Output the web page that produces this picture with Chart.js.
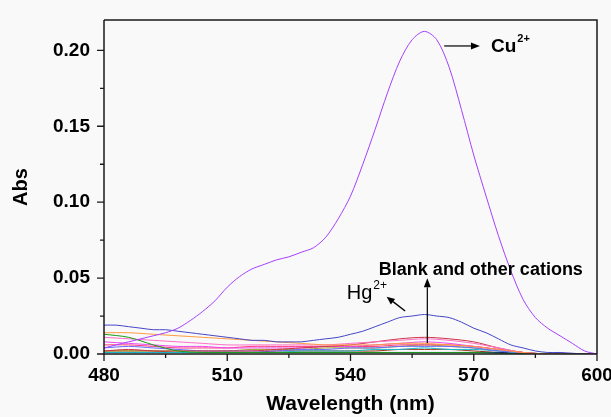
<!DOCTYPE html>
<html><head><meta charset="utf-8">
<script src="https://cdn.jsdelivr.net/npm/chart.js@4.4.0/dist/chart.umd.min.js"></script>
<style>
html,body{margin:0;padding:0;background:#f9f9f9;}
#wrap{width:611px;height:417px;position:relative;}
canvas{display:block;}
</style></head><body>
<div id="wrap"><canvas id="c" width="611" height="417"></canvas></div>
<script>
// ---- data ----
const wavelengths = [480,483,486,489,492,495,498,501,504,507,510,513,516,519,522,525,528,531,534,537,540,543,546,549,552,555,558,561,564,567,570,573,576,579,582,585,588,591,594,597,600];
const cuValues = [0.004,0.006,0.008,0.010,0.012,0.014,0.017,0.022,0.028,0.035,0.044,0.051,0.056,0.059,0.062,0.064,0.067,0.070,0.077,0.089,0.104,0.125,0.148,0.172,0.193,0.207,0.2125,0.207,0.189,0.161,0.131,0.104,0.078,0.055,0.036,0.024,0.017,0.012,0.007,0.002,0.000];
const hgValues = [0.019,0.019,0.018,0.017,0.016,0.016,0.015,0.014,0.013,0.012,0.011,0.010,0.009,0.009,0.008,0.008,0.008,0.009,0.010,0.011,0.013,0.015,0.018,0.021,0.024,0.025,0.026,0.025,0.024,0.021,0.017,0.014,0.010,0.006,0.004,0.002,0.001,0.001,0.0005,0,0];

const wlOther = [480,486,492,498,504,510,516,522,528,534,540,546,552,558,564,570,576,582,588,594,600];
const orangeValues  = [0.014,0.014,0.013,0.012,0.011,0.010,0.009,0.008,0.007,0.006,0.006,0.006,0.007,0.007,0.006,0.005,0.003,0.001,0,0,0];
const greenValues   = [0.013,0.011,0.006,0.002,0.001,0.001,0.001,0.001,0.001,0.001,0.001,0.001,0.001,0.001,0.001,0.001,0.0005,0,0,0,0];
const pinkValues    = [0.011,0.010,0.009,0.008,0.007,0.006,0.006,0.006,0.006,0.006,0.007,0.008,0.009,0.010,0.009,0.007,0.004,0.001,0,0,0];
const redValues     = [0.002,0.003,0.002,0.002,0.002,0.002,0.002,0.003,0.004,0.005,0.006,0.008,0.010,0.011,0.010,0.008,0.004,0.001,0,0,0];
const magentaValues = [0.008,0.007,0.006,0.005,0.005,0.004,0.004,0.004,0.004,0.005,0.005,0.006,0.007,0.008,0.007,0.005,0.003,0.001,0,0,0];
const lightBlueValues = [0.004,0.005,0.004,0.003,0.002,0.002,0.002,0.002,0.003,0.003,0.004,0.004,0.005,0.005,0.005,0.004,0.002,0.001,0,0,0];
const roseValues    = [0.006,0.006,0.005,0.004,0.004,0.004,0.005,0.005,0.005,0.005,0.005,0.005,0.006,0.006,0.006,0.005,0.003,0.001,0,0,0];
const cyanValues    = [0.001,0.001,0.001,0.001,0.001,0.001,0.001,0.001,0.002,0.002,0.002,0.003,0.003,0.004,0.003,0.003,0.002,0.0005,0,0,0];
const oliveValues   = [0.002,0.002,0.002,0.002,0.002,0.002,0.003,0.003,0.003,0.004,0.004,0.004,0.005,0.006,0.005,0.004,0.002,0.001,0,0,0];
const navyValues    = [0.001,0.001,0.001,0.001,0.001,0.001,0.001,0.001,0.001,0.001,0.001,0.001,0.001,0.001,0.001,0.001,0.001,0.0005,0,0,0];
const brownValues   = [0.002,0.002,0.002,0.001,0.001,0.001,0.001,0.002,0.002,0.002,0.002,0.002,0.003,0.003,0.003,0.002,0.001,0.0005,0,0,0];

const xMajorTicks = [480,510,540,570,600];
const xMinorTicks = [495,525,555,585];
const yMajorTicks = [0,0.05,0.10,0.15,0.20];
const yMinorTicks = [0.025,0.075,0.125,0.175];

// ---- build ----
const FONT = '"Liberation Sans", Arial, sans-serif';
const pts = (xs, ys) => xs.map((x,i)=>({x, y: ys[i]}));
const ds = (label, xs, ys, color) => ({label, data: pts(xs, ys), borderColor: color, borderWidth: 1, pointRadius: 0, tension: 0.3, fill: false});

const datasets = [
  ds('Cu2+', wavelengths, cuValues, '#a640ff'),
  ds('Hg2+', wavelengths, hgValues, '#4646c8'),
  ds('Pb', wlOther, orangeValues, '#ff9a3c'),
  ds('Zn', wlOther, greenValues, '#1a9a1a'),
  ds('Ni', wlOther, pinkValues, '#ff6ec7'),
  ds('Co', wlOther, redValues, '#cc3344'),
  ds('Cd', wlOther, magentaValues, '#ee44ee'),
  ds('Fe', wlOther, lightBlueValues, '#6a6aff'),
  ds('Mn', wlOther, roseValues, '#ff3a7a'),
  ds('Ca', wlOther, cyanValues, '#1ab8c8'),
  ds('Mg', wlOther, oliveValues, '#a0a020'),
  ds('Na', wlOther, navyValues, '#101080'),
  ds('Blank', wlOther, brownValues, '#993311'),
];

function arrow(ctx, x1, y1, x2, y2, len, half) {
  const ang = Math.atan2(y2 - y1, x2 - x1);
  const bx = x2 - len * Math.cos(ang), by = y2 - len * Math.sin(ang);
  ctx.beginPath(); ctx.moveTo(x1, y1); ctx.lineTo(bx, by); ctx.stroke();
  ctx.beginPath();
  ctx.moveTo(x2, y2);
  ctx.lineTo(bx + half * Math.sin(ang), by - half * Math.cos(ang));
  ctx.lineTo(bx - half * Math.sin(ang), by + half * Math.cos(ang));
  ctx.closePath(); ctx.fill();
}

const decor = {
  id: 'decor',
  beforeDraw(chart) {
    const c = chart.ctx;
    c.save(); c.fillStyle = '#f9f9f9'; c.fillRect(0, 0, chart.width, chart.height); c.restore();
  },
  afterDraw(chart) {
    const {ctx, chartArea: a, scales: {x, y}} = chart;
    ctx.save();
    ctx.strokeStyle = '#1a1a1a'; ctx.lineWidth = 1.5;
    ctx.beginPath(); ctx.moveTo(a.left, a.top); ctx.lineTo(a.right, a.top); ctx.lineTo(a.right, a.bottom); ctx.stroke();
    ctx.beginPath(); ctx.moveTo(a.left, a.top); ctx.lineTo(a.left, a.bottom); ctx.lineTo(a.right, a.bottom); ctx.stroke();
    ctx.lineWidth = 1.3;
    ctx.beginPath();
    xMajorTicks.forEach(v => { const p = x.getPixelForValue(v); ctx.moveTo(p, a.bottom); ctx.lineTo(p, a.bottom + 7); });
    xMinorTicks.forEach(v => { const p = x.getPixelForValue(v); ctx.moveTo(p, a.bottom); ctx.lineTo(p, a.bottom + 4); });
    yMajorTicks.forEach(v => { const p = y.getPixelForValue(v); ctx.moveTo(a.left, p); ctx.lineTo(a.left - 7, p); });
    yMinorTicks.forEach(v => { const p = y.getPixelForValue(v); ctx.moveTo(a.left, p); ctx.lineTo(a.left - 4, p); });
    ctx.stroke();

    const X = v => x.getPixelForValue(v), Y = v => y.getPixelForValue(v);
    ctx.fillStyle = '#000'; ctx.strokeStyle = '#000'; ctx.lineWidth = 1.2;
    // Cu arrow + label
    arrow(ctx, X(562.8), Y(0.2029), X(571.5), Y(0.2029), 9, 3.5);
    ctx.textBaseline = 'alphabetic'; ctx.textAlign = 'left';
    ctx.font = 'bold 19px ' + FONT;
    const cuX = X(574.2), cuY = Y(0.199);
    ctx.fillText('Cu', cuX, cuY);
    const cuW = ctx.measureText('Cu').width;
    ctx.font = 'bold 11px ' + FONT;
    ctx.fillText('2+', cuX + cuW + 1, cuY - 10);
    // Blank and other cations
    ctx.font = 'bold 18px ' + FONT;
    ctx.fillText('Blank and other cations', X(546.9), Y(0.052));
    arrow(ctx, X(558.7), Y(0.0072), X(558.7), Y(0.0499), 9, 3.5);
    // Hg
    ctx.font = '20px ' + FONT;
    const hgX = X(539.1), hgY = Y(0.036);
    ctx.fillText('Hg', hgX, hgY);
    const hgW = ctx.measureText('Hg').width;
    ctx.font = '12px ' + FONT;
    ctx.fillText('2+', hgX + hgW + 1, hgY - 10);
    ctx.lineWidth = 1.4;
    arrow(ctx, X(553.3), Y(0.0283), X(548.8), Y(0.0377), 8, 3.5);
    ctx.restore();
  }
};

new Chart(document.getElementById('c'), {
  type: 'line',
  data: { datasets },
  options: {
    responsive: false,
    animation: false,
    devicePixelRatio: 1,
    layout: { padding: { top: 20, right: 14, left: 0, bottom: 0 } },
    plugins: { legend: { display: false }, tooltip: { enabled: false } },
    scales: {
      x: {
        type: 'linear', min: 480, max: 600,
        afterFit: s => { s.height = 63; s.paddingLeft = 0; s.paddingRight = 0; },
        grid: { display: false, drawTicks: false },
        border: { display: false },
        ticks: { stepSize: 30, color: '#000', padding: 10, font: { family: FONT, size: 19, weight: 'bold' }, maxRotation: 0, autoSkip: false },
        title: { display: true, text: 'Wavelength (nm)', color: '#000', font: { family: FONT, size: 21, weight: 'bold' }, padding: { top: 0, bottom: 0 } }
      },
      y: {
        type: 'linear', min: 0, max: 0.22,
        afterFit: s => { s.width = 104; s.paddingTop = 0; s.paddingBottom = 0; },
        grid: { display: false, drawTicks: false },
        border: { display: false },
        ticks: { stepSize: 0.05, color: '#000', padding: 14, font: { family: FONT, size: 19, weight: 'bold' }, autoSkip: false,
          callback: v => (v > 0.21 ? '' : v.toFixed(2)) },
        title: { display: true, text: 'Abs', color: '#000', font: { family: FONT, size: 20, weight: 'bold' }, padding: { top: 9, bottom: 0 } }
      }
    }
  },
  plugins: [decor]
});
</script>
</body></html>
